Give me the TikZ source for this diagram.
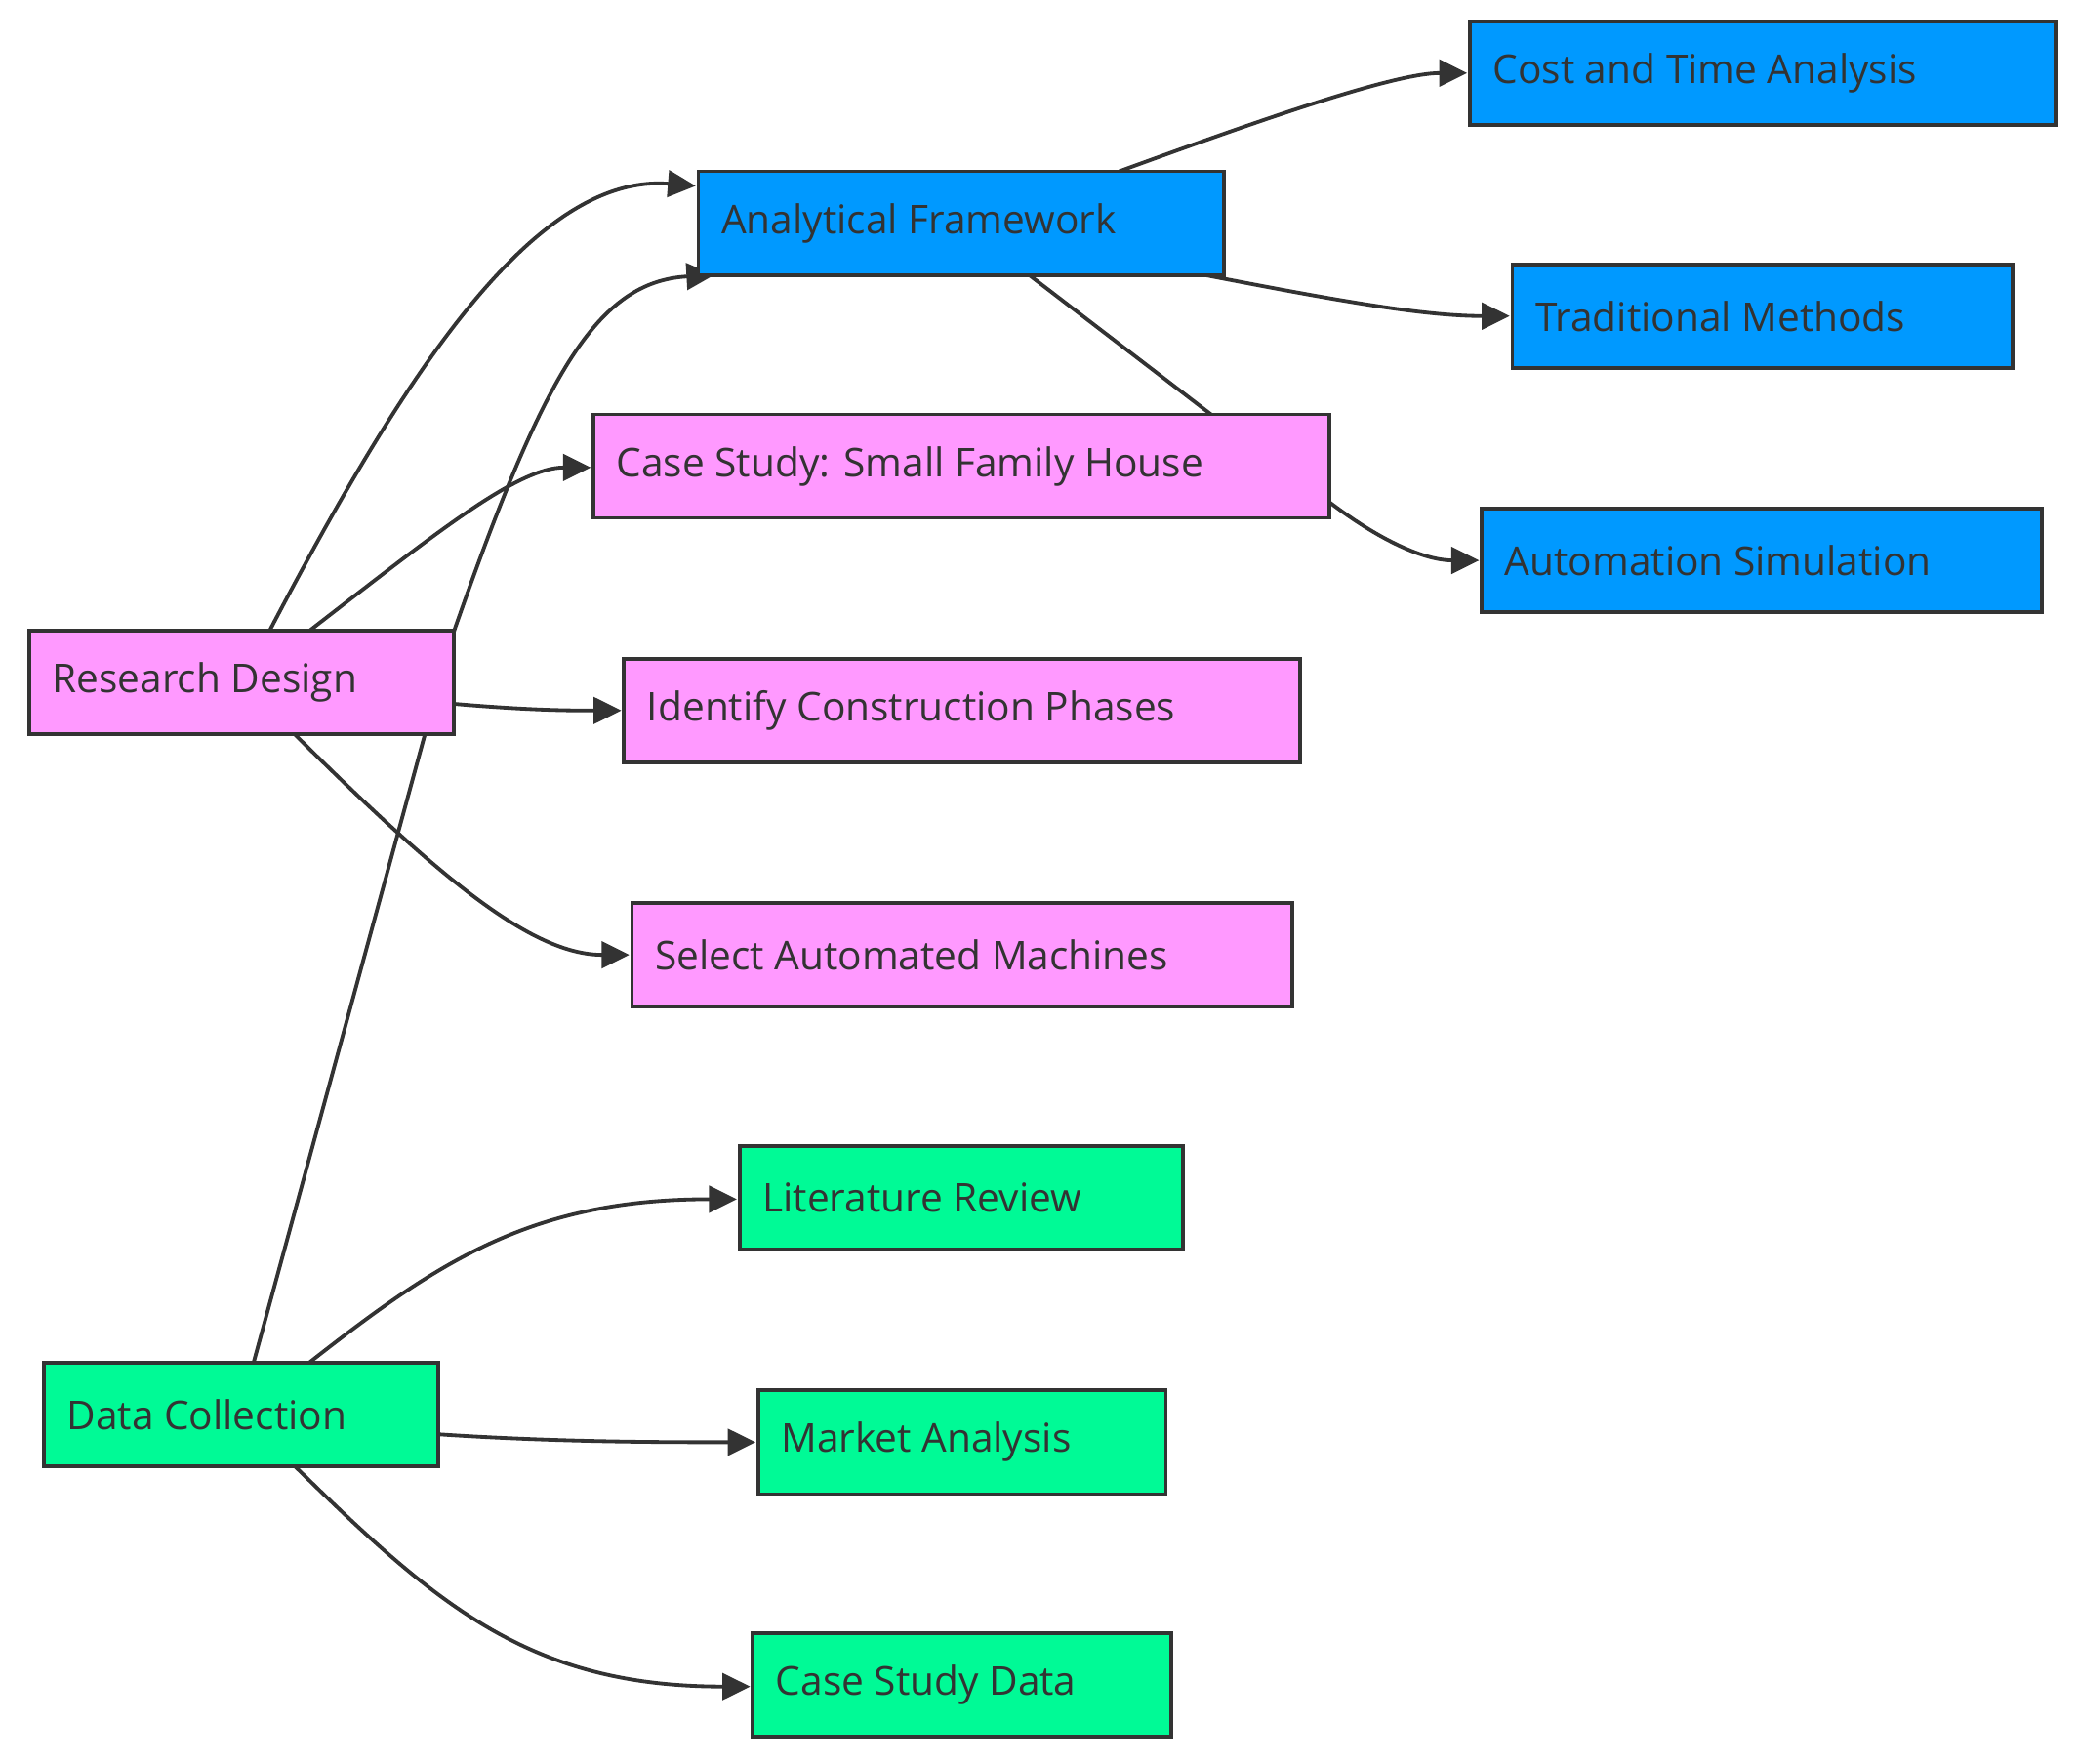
\documentclass[tikz,border=0pt]{standalone}
\usepackage{fontspec}
\setmainfont{Open Sans}
\usetikzlibrary{arrows.meta}
\definecolor{bl}{RGB}{0,153,255}
\definecolor{pk}{RGB}{255,153,255}
\definecolor{gr}{RGB}{0,250,150}
\definecolor{ln}{RGB}{51,51,51}
\begin{document}
\begin{tikzpicture}[x=0.02cm,y=-0.02cm,
  box/.style={draw=ln,line width=1.6pt},
  lab/.style={anchor=west,inner sep=0pt,font=\fontsize{17}{20}\selectfont,text=ln},
  edge/.style={draw=ln,line width=1.6pt,-{Triangle[length=0.42cm,width=0.4cm]}},
  plain/.style={draw=ln,line width=1.6pt}]
\useasboundingbox (0,0) rectangle (1565,1328);
% coordinates for edge ends
\coordinate (rdA) at (203,475); \coordinate (rdB) at (233,475);
\coordinate (rdR) at (342,530); \coordinate (rdC) at (222,553);
\coordinate (dcT) at (191,1026); \coordinate (dcB) at (233,1026);
\coordinate (dcR) at (330,1080); \coordinate (dcC) at (222,1104);
\coordinate (afT) at (843,129); \coordinate (afR) at (907,207); \coordinate (afB) at (775,207);
\coordinate (afL) at (524,140); \coordinate (afL2) at (538,207);
\coordinate (csL) at (445,352); \coordinate (icL) at (468,535); \coordinate (saL) at (474,719);
\coordinate (lrL) at (555,903); \coordinate (maL) at (569,1086); \coordinate (cdL) at (565,1270);
\coordinate (ctL) at (1105,55); \coordinate (tmL) at (1137,238); \coordinate (asL) at (1114,422);
\coordinate (mid) at (912,312); \coordinate (mid2) at (1001,378);
% edges
\draw[edge] (rdA) .. controls (300,290) and (400,130) .. (afL);
\draw[edge] (rdB) .. controls (330,400) and (390,352) .. (csL);
\draw[edge] (rdR) .. controls (400,535) and (430,535) .. (icL);
\draw[edge] (rdC) .. controls (330,660) and (400,719) .. (saL);
\draw[edge] (dcT) -- (320,553) -- (342,475) .. controls (410,280) and (450,212) .. (afL2);
\draw[edge] (dcB) .. controls (330,950) and (400,903) .. (lrL);
\draw[edge] (dcR) .. controls (420,1086) and (500,1086) .. (maL);
\draw[edge] (dcC) .. controls (330,1210) and (400,1270) .. (cdL);
\draw[edge] (afT) .. controls (950,90) and (1050,55) .. (ctL);
\draw[edge] (afR) .. controls (1000,225) and (1070,238) .. (tmL);
\draw[edge] (afB) -- (mid) -- (mid2) .. controls (1050,415) and (1080,422) .. (asL);
% boxes
\newcommand{\bx}[7]{\draw[box,fill=#6] (#2,#3) rectangle (#4,#5);
  \node[lab] (#1) at ({#2+17},{(#3+#5)/2}) {#7};}
\bx{cta}{1107}{16}{1548}{94}{bl}{Cost and Time Analysis}
\bx{af}{526}{129}{922}{207}{bl}{Analytical Framework}
\bx{tm}{1139}{199}{1516}{277}{bl}{Traditional Methods}
\bx{cs}{447}{312}{1001}{390}{pk}{Case Study: Small Family House}
\bx{as}{1116}{383}{1538}{461}{bl}{Automation Simulation}
\bx{rd}{22}{475}{342}{553}{pk}{Research Design}
\bx{ic}{470}{496}{979}{574}{pk}{Identify Construction Phases}
\bx{sa}{476}{680}{973}{758}{pk}{Select Automated Machines}
\bx{lr}{557}{863}{891}{941}{gr}{Literature Review}
\bx{dc}{33}{1026}{330}{1104}{gr}{Data Collection}
\bx{ma}{571}{1047}{878}{1125}{gr}{Market Analysis}
\bx{cd}{567}{1230}{882}{1308}{gr}{Case Study Data}
\end{tikzpicture}
\end{document}
